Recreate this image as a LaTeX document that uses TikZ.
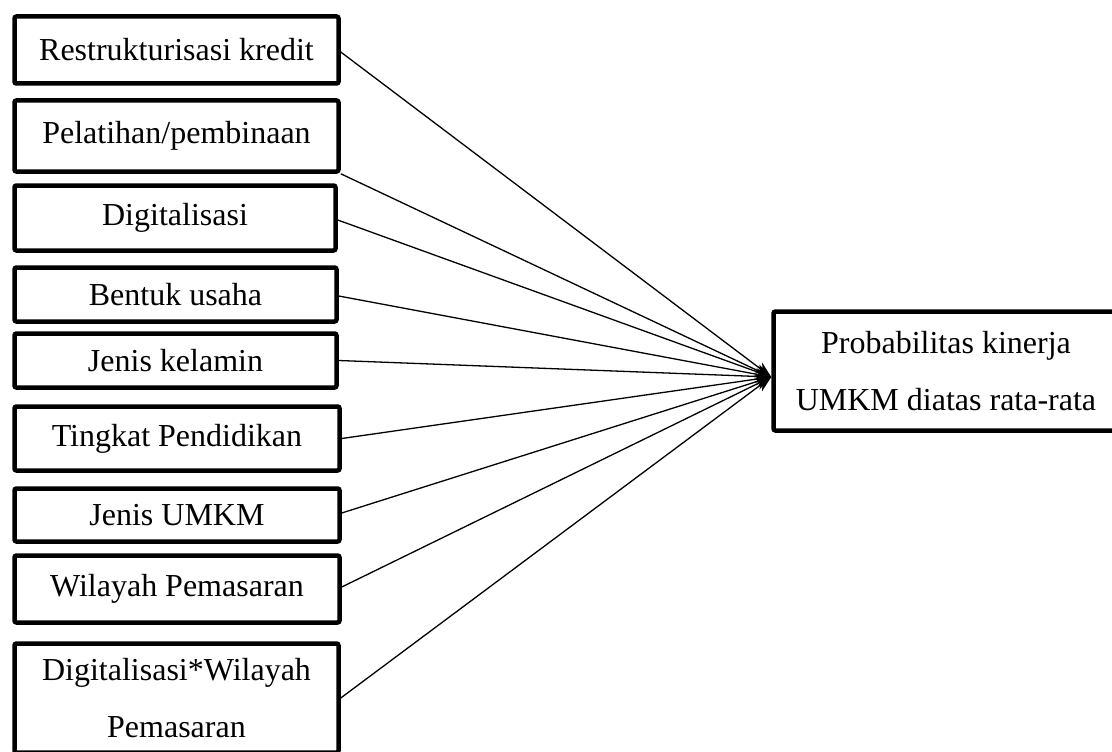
\documentclass[tikz,border=0pt]{standalone}
\usepackage{fontspec}
\setmainfont{Liberation Serif}
\usetikzlibrary{positioning,arrows.meta}
\tikzset{
  varbox/.style  = {shape=rectangle, rounded corners=2pt, draw, line width=4.5pt,
                    align=center, inner sep=0pt, minimum width=324pt,
                    font=\fontsize{32}{57}\selectfont},
  outcome/.style = {varbox, minimum width=345pt, minimum height=119pt},
  link/.style    = {line width=1.3pt, -{Stealth[length=16pt,width=12pt]}}
}

\begin{document}
\begin{tikzpicture}[x=1pt,y=-1pt]
\useasboundingbox (0,0) rectangle (1112,752);
% explanatory variables
\node [varbox, minimum height=67pt] (rk)  at (176.5,50)  {Restrukturisasi kredit};
\node [varbox, minimum height=71pt] (pel) at (176.5,136) {Pelatihan/pembinaan};
\node [varbox, minimum height=65pt, minimum width=321pt] (dig) at (175,218) {Digitalisasi};
\node [varbox, minimum height=54pt, minimum width=322pt] (bu)  at (175.5,294.5) {Bentuk usaha};
\node [varbox, minimum height=54pt, minimum width=322pt] (jk)  at (175.5,360.5) {Jenis kelamin};
\node [varbox, minimum height=64pt, minimum width=325pt] (tp)  at (177,438.5) {Tingkat Pendidikan};
\node [varbox, minimum height=53pt, minimum width=325pt] (ju)  at (177,515) {Jenis UMKM};
\node [varbox, minimum height=67pt, minimum width=325pt] (wp)  at (177,589) {Wilayah Pemasaran};
\node [varbox, minimum height=109pt] (dwp) at (176.5,698) {Digitalisasi*Wilayah\\Pemasaran};
% dependent variable
\node [outcome] (prob) at (946,371) {Probabilitas kinerja\\UMKM diatas rata-rata};
\coordinate (tip) at ([yshift=-6pt]prob.west);
% links
\draw [link] ([yshift=-2pt]rk.east) -- (tip);
\draw [link] (pel.south east) -- (tip);
\draw [link] ([yshift=-2pt]dig.east) -- (tip);
\draw [link] ([yshift=-1.5pt]bu.east) -- (tip);
\draw [link] (jk.east) -- (tip);
\draw [link] (tp.east) -- (tip);
\draw [link] ([yshift=2pt]ju.east) -- (tip);
\draw [link] ([yshift=2pt]wp.east) -- (tip);
\draw [link] (dwp.east) -- (tip);
\end{tikzpicture}
\end{document}
